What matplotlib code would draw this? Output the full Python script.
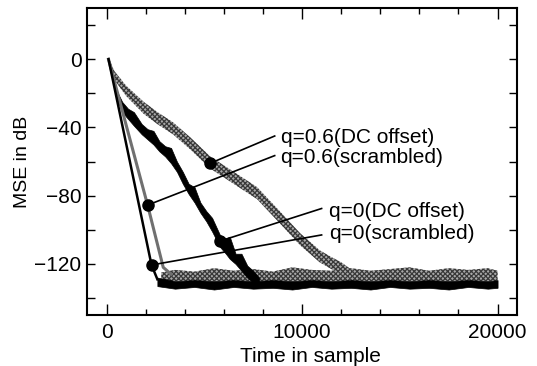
import numpy as np
import matplotlib.pyplot as plt
from matplotlib.ticker import MultipleLocator

plt.rcParams['font.family'] = ['Liberation Sans', 'DejaVu Sans']
plt.rcParams['hatch.linewidth'] = 0.9

# q=0 (scrambled): fast black line
a_x = [100, 2300, 2600]
a_y = [0, -120.6, -129]

# q=0.6 (scrambled): thin grey line
b_x = [100, 2100, 2900, 3300]
b_y = [0, -85.5, -122, -126]

# q=0 (DC offset): noisy black curve, upper / lower edge
c_x = [100, 500, 800, 1100, 1400, 1800, 2100, 2400, 2700, 3000, 3300, 3600, 3900,
       4200, 4500, 4800, 5100, 5400, 5800, 6100, 6300, 6600, 6900, 7200, 7500, 7800]
c_hi = [1, -18, -25, -29, -31, -38, -41, -42, -48, -51, -52, -60, -66,
        -73, -75, -84, -89, -93, -103, -105, -104, -114, -114, -121, -124, -128]
c_lo = [-1, -22, -31, -35, -39, -44, -47, -50, -54, -57, -61, -66, -73,
        -79, -84, -90, -95, -101, -110, -114, -117, -120, -124, -128, -131, -132]

# q=0.6 (DC offset): slow grey band, upper / lower edge
d_x = [100, 400, 1000, 1900, 2600, 3400, 4300, 5300, 6500, 7700, 8850,
       9900, 10900, 11500, 12000, 12600]
d_hi = [1, -7, -15.5, -25, -31, -37, -46, -57, -66, -75, -89,
        -102, -112, -116, -119, -124]
d_lo = [-1, -12, -21.5, -32, -38, -44, -53, -64, -73, -82, -96,
        -109, -119, -123, -126, -129]

# steady-state floors
gf_x = [2800, 3500, 4500, 5500, 6500, 7500, 8500, 9500, 10500, 11500, 12500, 13500,
        14500, 15500, 16500, 17500, 18500, 19500, 20000]
gf_hi = [-125, -123.5, -124.5, -122.5, -124, -123, -124.5, -122, -123.5, -124, -122.5, -124,
         -123, -122, -124, -122.5, -123.5, -122.5, -124]
gf_lo = [-130] * 19

bf_x = [2600, 3500, 4500, 5500, 6500, 7500, 8500, 9500, 10500, 11500, 12500, 13500,
        14500, 15500, 16500, 17500, 18500, 19500, 20000]
bf_hi = [-128, -130, -129.5, -130, -129.5, -130, -129.5, -130, -129.5, -130, -129.5, -130,
         -129.5, -130, -129.5, -130, -129.5, -130, -129.5]
bf_lo = [-133, -134.5, -133.5, -135, -133.5, -134.5, -134, -135, -133.5, -134.5, -134, -135,
         -133.5, -134.5, -134, -135, -133.5, -134.5, -134]

labels = ['q=0.6(DC offset)', 'q=0.6(scrambled)', 'q=0(DC offset)', 'q=0(scrambled)']
mark_x = [5300, 2100, 5800, 2300]
mark_y = [-61, -85.5, -106.6, -120.6]
end_x = [8600, 8600, 11000, 11000]
end_y = [-45, -56.5, -87.5, -103]
text_x = [8900, 8900, 11400, 11400]
text_y = [-46, -57.5, -89, -102]

fig = plt.figure(figsize=(5.37, 3.66), dpi=100)
ax = fig.add_axes([0.162, 0.139, 0.801, 0.839])

grey = dict(facecolor='#a8a8a8', edgecolor='#383838', hatch='xxxxxxx', linewidth=0)
ax.fill_between(gf_x, gf_lo, gf_hi, **grey)
ax.fill_between(d_x, d_lo, d_hi, **grey)
ax.plot(b_x, b_y, color='#707070', lw=2.2)
ax.fill_between(bf_x, bf_lo, bf_hi, color='black', linewidth=0.5)
ax.fill_between(c_x, c_lo, c_hi, color='black', linewidth=0.5)
ax.plot(a_x, a_y, color='black', lw=1.8)

for i in range(len(labels)):
    ax.plot([mark_x[i], end_x[i]], [mark_y[i], end_y[i]], color='black', lw=1.2)
    ax.plot(mark_x[i], mark_y[i], 'o', color='black', ms=8)
    ax.text(text_x[i], text_y[i], labels[i], fontsize=15, va='center', ha='left')

ax.set_xlim(-1000, 21000)
ax.set_ylim(-150, 30)
ax.set_xticks([0, 10000, 20000])
ax.xaxis.set_minor_locator(MultipleLocator(2000))
ax.set_yticks([-120, -80, -40, 0])
ax.yaxis.set_minor_locator(MultipleLocator(20))
ax.tick_params(which='both', direction='in', top=True, right=True, labelsize=15, width=1)
ax.tick_params(axis='x', which='major', length=8, pad=6)
ax.tick_params(axis='x', which='minor', length=4)
ax.tick_params(axis='y', which='both', length=6, pad=4)
for s in ax.spines.values():
    s.set_linewidth(1.5)

ax.set_xlabel('Time in sample', fontsize=15)
ax.xaxis.set_label_coords(0.52, -0.105)
ax.set_ylabel('MSE in dB', fontsize=14)
ax.yaxis.set_label_coords(-0.13, 0.5)

fig.savefig('out.png', dpi=100)
